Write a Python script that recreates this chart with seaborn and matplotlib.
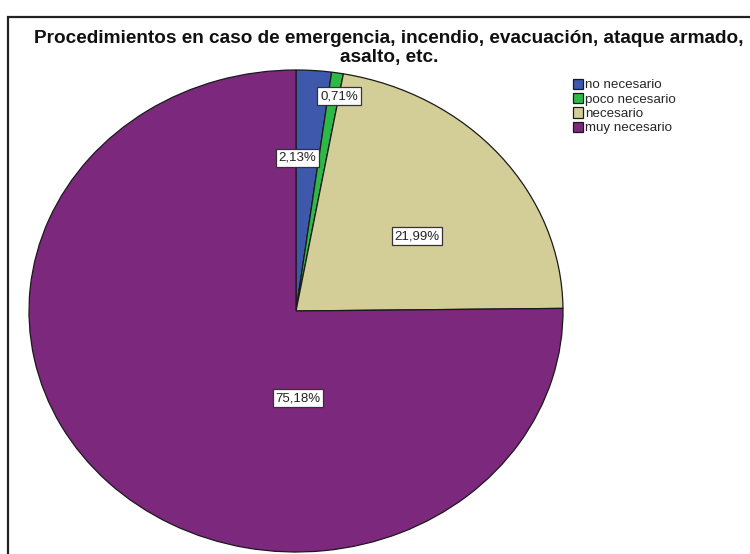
#Importing libraries
import numpy as np
import seaborn as sns
import matplotlib.pyplot as plt
from matplotlib.patches import Rectangle

#Data
categories = ['no necesario', 'poco necesario', 'necesario', 'muy necesario']
percentages = [2.13, 0.71, 21.99, 75.18]
pct_labels = ['2,13%', '0,71%', '21,99%', '75,18%']
colors = ['#3E58AC', '#2EB848', '#D3CE97', '#7C287D']

#Label positions inside the pie (axes data units)
label_pos = [(0.004, 0.635), (0.161, 0.892), (0.454, 0.311), (0.008, -0.361)]

sns.set_style('white')
plt.rcParams['font.family'] = ['Liberation Sans', 'DejaVu Sans']

W, H = 750, 554
fig = plt.figure(figsize=(W / 100, H / 100), dpi=100)

#Pie axes (stretched like the original, so the pie is an ellipse)
cx, cy, rx, ry = 296, 311, 267, 241
ax = fig.add_axes([(cx - rx) / W, (H - cy - ry) / H, 2 * rx / W, 2 * ry / H])
wedges, _ = ax.pie(percentages,
                   colors=sns.color_palette(colors),
                   startangle=90,
                   counterclock=False,
                   radius=1,
                   wedgeprops=dict(edgecolor='#1a1a1a', linewidth=0.9))
ax.set_aspect('auto')
ax.set_xlim(-1, 1)
ax.set_ylim(-1, 1)
ax.axis('off')
for wedge in wedges:
    wedge.set_clip_on(False)

for (x, y), txt in zip(label_pos, pct_labels):
    ax.text(x, y, txt, ha='center', va='center', fontsize=9.5, color='#222222',
            bbox=dict(boxstyle='square,pad=0.2', facecolor='white',
                      edgecolor='#333333', linewidth=0.9))

#Title
fig.text(389 / W, 1 - 48 / H,
         'Procedimientos en caso de emergencia, incendio, evacuación, ataque armado,\nasalto, etc.',
         ha='center', va='center', fontsize=13.7, fontweight='bold',
         linespacing=1.1, color='#111111')

#Legend
leg = fig.legend(wedges, categories,
                 loc='upper left',
                 bbox_to_anchor=(566 / W, 1 - 72 / H),
                 frameon=False,
                 fontsize=9.6,
                 handlelength=0.75,
                 handleheight=0.8,
                 handletextpad=0.2,
                 labelspacing=0.12,
                 borderpad=0)

#Outer frame
fig.patches.append(Rectangle((8 / W, -0.2), 1.2, 1.2 - 17 / H,
                             transform=fig.transFigure, fill=False,
                             edgecolor='#222222', linewidth=1.6, zorder=10))

fig.savefig('out.png', dpi=100)
